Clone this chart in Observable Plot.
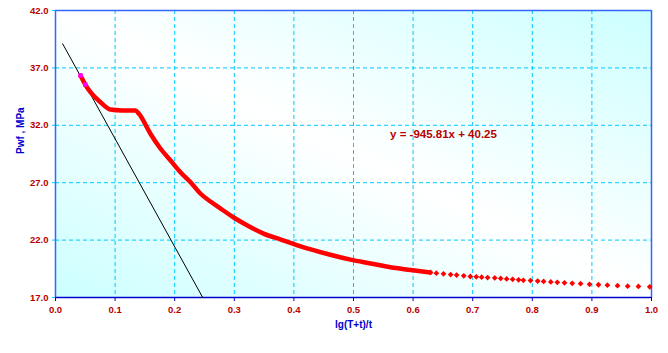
<!DOCTYPE html>
<html><head><meta charset="utf-8">
<script src="https://cdn.jsdelivr.net/npm/d3@7"></script>
<script src="https://cdn.jsdelivr.net/npm/@observablehq/plot@0.6"></script>
<style>body{margin:0;background:#fff;font-family:"Liberation Sans",Arial,sans-serif;}</style>
</head><body><div id="chart"></div>
<script>
// Dense part of the measured curve (markers overlap into a thick line)
const denseX = [0.042,0.050,0.059,0.076,0.092,0.112,0.134,0.140,0.159,0.176,0.193,0.210,0.227,0.243,0.260,0.277,0.299,0.322,0.349,0.378,0.406,0.433,0.461,0.495,0.529,0.562,0.596,0.629];
const denseY = [36.34,35.55,34.86,33.99,33.38,33.30,33.29,33.00,31.29,29.98,28.93,27.89,27.02,26.06,25.36,24.75,23.97,23.27,22.57,22.05,21.55,21.12,20.72,20.30,19.96,19.63,19.40,19.18];
// Sparse part (individual markers)
const sparseX = [0.629,0.639,0.651,0.663,0.673,0.685,0.696,0.706,0.715,0.725,0.737,0.747,0.757,0.767,0.777,0.785,0.797,0.809,0.819,0.831,0.842,0.854,0.867,0.881,0.896,0.911,0.926,0.943,0.960,0.978,0.997];
const sparseY = [19.18,19.12,19.06,19.00,18.95,18.89,18.83,18.80,18.77,18.74,18.70,18.66,18.62,18.58,18.54,18.50,18.47,18.43,18.40,18.36,18.32,18.28,18.24,18.20,18.15,18.11,18.07,18.03,17.99,17.96,17.93];
// Highlighted points (magenta)
const markX = [0.042,0.050];
const markY = [36.34,35.55];
// Trend line end points
const trendX = [0.012,0.247];
const trendY = [39.1,17.0];
// Ticks
const xTicks = [0,0.1,0.2,0.3,0.4,0.5,0.6,0.7,0.8,0.9,1.0];
const yTicks = [17,22,27,32,37,42];
const equation = "y = -945.81x + 40.25";
const xTitle = "lg(T+t)/t";
const yTitle = "Pwf , MPa";

const dense = denseX.map((x,i)=>({x, y: denseY[i]}));
const sparse = sparseX.map((x,i)=>({x, y: sparseY[i]}));
const marks = markX.map((x,i)=>({x, y: markY[i]}));
const trend = trendX.map((x,i)=>({x, y: trendY[i]}));

const red = "#B80000";
const blue = "#0000CC";
const grid = "#00C8FF";

const plot = Plot.plot({
  width: 668, height: 353,
  marginLeft: 55, marginRight: 17, marginTop: 10, marginBottom: 56,
  style: {fontFamily: "'Liberation Sans', Arial, sans-serif", background: "transparent"},
  x: {domain: [0, 1]},
  y: {domain: [17, 42]},
  marks: [
    Plot.frame({fill: "url(#bggrad)", stroke: "none"}),
    Plot.gridX(xTicks, {stroke: grid, strokeOpacity: 1, strokeDasharray: "4,3"}),
    Plot.gridY(yTicks, {stroke: grid, strokeOpacity: 1, strokeDasharray: "4,3"}),
    Plot.ruleX([0, 1], {stroke: "#3366FF", strokeWidth: 1.5}),
    Plot.ruleY([42], {stroke: "#3366FF", strokeWidth: 1.5}),
    Plot.ruleY([17], {stroke: blue, strokeWidth: 1.5}),
    Plot.axisX(xTicks, {tickFormat: d => d.toFixed(1), tickSize: 4, tickPadding: 5, stroke: blue, fill: red, fontWeight: "bold", fontSize: 9.5, label: null}),
    Plot.axisY(yTicks, {tickFormat: d => d.toFixed(1), tickSize: 3, tickPadding: 4, stroke: grid, fill: red, fontWeight: "bold", fontSize: 9.5, label: null}),
    Plot.text([xTitle], {frameAnchor: "bottom", dy: 30, text: d => d, fill: blue, fontWeight: "bold", fontSize: 10}),
    Plot.text([yTitle], {frameAnchor: "left", dx: -35, rotate: -90, text: d => d, fill: blue, fontWeight: "bold", fontSize: 10}),
    Plot.line(trend, {x: "x", y: "y", stroke: "black", strokeWidth: 1}),
    Plot.line(dense, {x: "x", y: "y", stroke: "#FF0000", strokeWidth: 4.5, curve: "monotone-x"}),
    Plot.dot(sparse, {x: "x", y: "y", fill: "#FF0000", stroke: "none", symbol: "diamond2", r: 2.6}),
    Plot.dot(marks, {x: "x", y: "y", fill: "#FF00FF", stroke: "none", symbol: "square", r: 2.5}),
    Plot.text([equation], {x: 0.651, y: 31.2, text: d => d, fill: red, fontWeight: "bold", fontSize: 11.5})
  ]
});

const svg = d3.select(plot);
const defs = svg.insert("defs", ":first-child");
const lg = defs.append("linearGradient").attr("id", "bggrad")
  .attr("x1", "0").attr("y1", "1").attr("x2", "1").attr("y2", "0");
lg.append("stop").attr("offset", "0%").attr("stop-color", "#CCFFFF");
lg.append("stop").attr("offset", "50%").attr("stop-color", "#FFFFFF");
lg.append("stop").attr("offset", "100%").attr("stop-color", "#CCFFFF");

document.getElementById("chart").appendChild(plot);
</script>
</body></html>
